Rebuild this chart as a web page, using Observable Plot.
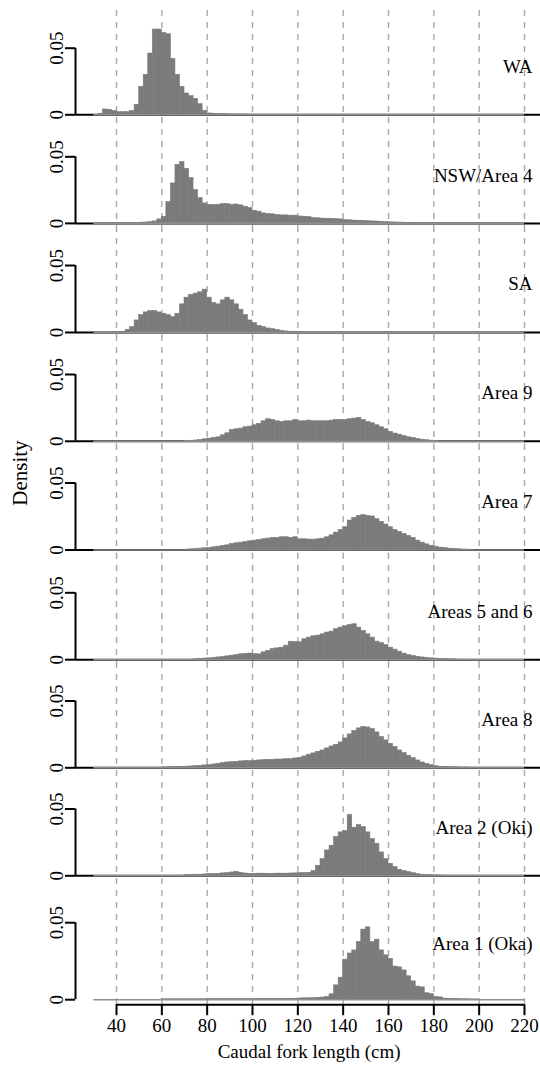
<!DOCTYPE html>
<html><head><meta charset="utf-8">
<script src="https://cdn.jsdelivr.net/npm/d3@7"></script>
<script src="https://cdn.jsdelivr.net/npm/@observablehq/plot@0.6"></script>
<style>
html,body{margin:0;padding:0;background:#fff;}
#chart{position:relative;width:540px;height:1067px;overflow:hidden;background:#fff;}
#chart svg{position:absolute;left:0;display:block;overflow:visible;}
</style></head><body><div id="chart"></div>
<script>
// ---------- data ----------
const binWidth = 2;
const binRange = [30, 220];
const xTicks = [40, 60, 80, 100, 120, 140, 160, 180, 200, 220];
const yTicks = [0, 0.05];
const panelNames = ["WA", "NSW/Area 4", "SA", "Area 9", "Area 7", "Areas 5 and 6", "Area 8", "Area 2 (Oki)", "Area 1 (Oka)"];
const binStarts = [32, 48, 42, 70, 70, 74, 60, 70, 60];
const xTitle = "Caudal fork length (cm)";
const yTitle = "Density";
const labelLevel = 0.036;

const waDensity = [0.0008, 0.004, 0.0038, 0.003, 0.002, 0.002, 0.002, 0.0028, 0.0075, 0.021, 0.030, 0.046, 0.064, 0.064, 0.0615, 0.0605, 0.042, 0.030, 0.021, 0.016, 0.014, 0.012, 0.008, 0.003, 0.001, 0.0008, 0.0006, 0.0005, 0.0004, 0.0003, 0.0002, 0.0002, 0.0001, 0.0001];
const nswDensity = [0.0003, 0.0005, 0.0007, 0.001, 0.0015, 0.003, 0.005, 0.016, 0.030, 0.044, 0.046, 0.041, 0.034, 0.025, 0.019, 0.015, 0.014, 0.0138, 0.014, 0.0145, 0.0145, 0.014, 0.0142, 0.0135, 0.0125, 0.0115, 0.0095, 0.0088, 0.0075, 0.007, 0.0068, 0.0062, 0.006, 0.006, 0.0058, 0.0058, 0.0052, 0.005, 0.0048, 0.004, 0.0038, 0.0036, 0.0035, 0.0034, 0.0032, 0.003, 0.0025, 0.0023, 0.0021, 0.002, 0.0019, 0.0016, 0.0015, 0.0014, 0.0012, 0.001, 0.0008, 0.0007, 0.0006, 0.0005, 0.0003, 0.0002];
const saDensity = [0.0005, 0.002, 0.004, 0.009, 0.013, 0.015, 0.016, 0.016, 0.015, 0.014, 0.013, 0.0115, 0.014, 0.021, 0.026, 0.028, 0.029, 0.030, 0.032, 0.026, 0.022, 0.021, 0.024, 0.026, 0.024, 0.021, 0.017, 0.013, 0.009, 0.007, 0.005, 0.004, 0.003, 0.0025, 0.0018, 0.0012, 0.0008, 0.0005, 0.0003];
const area9Density = [0.0002, 0.0004, 0.0006, 0.001, 0.0015, 0.002, 0.0025, 0.003, 0.0045, 0.006, 0.0085, 0.009, 0.0095, 0.0105, 0.011, 0.012, 0.013, 0.015, 0.0165, 0.016, 0.015, 0.0145, 0.015, 0.015, 0.016, 0.015, 0.015, 0.0155, 0.015, 0.015, 0.015, 0.015, 0.0155, 0.016, 0.016, 0.016, 0.0165, 0.017, 0.0175, 0.016, 0.0145, 0.0135, 0.012, 0.0105, 0.009, 0.007, 0.0058, 0.005, 0.004, 0.003, 0.0025, 0.0018, 0.0012, 0.0008, 0.0005, 0.0002];
const area7Density = [0.0003, 0.0005, 0.0007, 0.001, 0.0013, 0.0015, 0.002, 0.0025, 0.003, 0.0035, 0.0045, 0.005, 0.0055, 0.006, 0.0065, 0.007, 0.0075, 0.008, 0.0085, 0.009, 0.009, 0.0095, 0.0095, 0.009, 0.0095, 0.008, 0.008, 0.0078, 0.0077, 0.008, 0.0085, 0.0095, 0.011, 0.013, 0.015, 0.017, 0.022, 0.024, 0.0255, 0.026, 0.0255, 0.025, 0.023, 0.021, 0.019, 0.017, 0.015, 0.0135, 0.012, 0.0105, 0.009, 0.007, 0.0055, 0.0042, 0.0032, 0.0025, 0.0018, 0.0014, 0.001, 0.0008, 0.0006, 0.0004, 0.0003, 0.0002];
const area56Density = [0.0003, 0.0005, 0.0008, 0.001, 0.0013, 0.0017, 0.002, 0.0025, 0.003, 0.0035, 0.004, 0.0043, 0.0046, 0.0042, 0.004, 0.0055, 0.0065, 0.008, 0.0085, 0.009, 0.0105, 0.0134, 0.0132, 0.013, 0.0153, 0.0165, 0.0175, 0.018, 0.019, 0.0203, 0.021, 0.0228, 0.024, 0.025, 0.026, 0.0265, 0.024, 0.0215, 0.019, 0.0165, 0.0135, 0.0124, 0.011, 0.009, 0.0075, 0.006, 0.0045, 0.0035, 0.0028, 0.0022, 0.0017, 0.0013, 0.001, 0.0008, 0.0006, 0.0004, 0.0003, 0.0002];
const area8Density = [0.0003, 0.0004, 0.0005, 0.0006, 0.0007, 0.0008, 0.001, 0.0012, 0.0015, 0.0018, 0.002, 0.0025, 0.003, 0.0035, 0.004, 0.0042, 0.0045, 0.0048, 0.005, 0.005, 0.0052, 0.0055, 0.0058, 0.006, 0.006, 0.0062, 0.0062, 0.0065, 0.0065, 0.007, 0.0075, 0.0085, 0.0098, 0.0108, 0.012, 0.013, 0.0145, 0.016, 0.0172, 0.019, 0.022, 0.025, 0.0276, 0.0295, 0.0306, 0.0302, 0.029, 0.0265, 0.023, 0.0205, 0.018, 0.0155, 0.013, 0.011, 0.009, 0.0072, 0.0055, 0.004, 0.003, 0.002, 0.0012, 0.0008, 0.0006, 0.0005, 0.0004, 0.0003, 0.0002, 0.0002];
const area2Density = [0.0005, 0.0006, 0.0007, 0.0008, 0.001, 0.0012, 0.0013, 0.0015, 0.0018, 0.002, 0.0025, 0.003, 0.0022, 0.0017, 0.0015, 0.0015, 0.0016, 0.0016, 0.0015, 0.0015, 0.0016, 0.0016, 0.0016, 0.0017, 0.0018, 0.002, 0.002, 0.0022, 0.0035, 0.0075, 0.0125, 0.019, 0.0225, 0.029, 0.0325, 0.0335, 0.0455, 0.036, 0.038, 0.0365, 0.0325, 0.0275, 0.024, 0.0175, 0.0125, 0.009, 0.0065, 0.0045, 0.0035, 0.0028, 0.002, 0.0012, 0.0008, 0.0006, 0.0004, 0.0003, 0.0002];
const area1Density = [0.0003, 0.0003, 0.0003, 0.0003, 0.0003, 0.0003, 0.0003, 0.0003, 0.0003, 0.0003, 0.0004, 0.0004, 0.0004, 0.0004, 0.0004, 0.0004, 0.0004, 0.0004, 0.0004, 0.0004, 0.0004, 0.0004, 0.0005, 0.0005, 0.0005, 0.0005, 0.0005, 0.0006, 0.0006, 0.0006, 0.0008, 0.0009, 0.0009, 0.001, 0.0012, 0.0014, 0.0018, 0.0035, 0.0093, 0.0143, 0.026, 0.030, 0.032, 0.0375, 0.0455, 0.047, 0.0375, 0.039, 0.032, 0.0288, 0.0266, 0.0215, 0.021, 0.019, 0.0152, 0.0119, 0.0085, 0.008, 0.0042, 0.0037, 0.0018, 0.0015, 0.0007, 0.0006, 0.0005, 0.0004, 0.0003, 0.0003, 0.0002, 0.0002];

const densities = [waDensity, nswDensity, saDensity, area9Density, area7Density, area56Density, area8Density, area2Density, area1Density];

// ---------- layout ----------
const W = 540, H = 1067;
const xPixelRange = [116, 524];
const axisLeft = 75;
const zeroPx  = [114.3, 223.2, 332.2, 441, 549.5, 658.7, 767, 875.3, 999.5];
const fiftyPx = [47.7, 156.6, 265.2, 374.2, 482.5, 591.8, 700.2, 808.5, 922.5];
const xAxisPx = 1004.5;
const font = "'Liberation Serif', 'Times New Roman', serif";
const barGrey = "#7b7b7b";

const chart = document.getElementById("chart");

densities.forEach((vals, i) => {
  const last = i === densities.length - 1;
  const rows = vals.map((d, j) => ({x1: binStarts[i] + j * binWidth, x2: binStarts[i] + (j + 1) * binWidth, density: d}));
  const top = i === 0 ? 0 : zeroPx[i - 1] + 3;
  const bottom = last ? H : zeroPx[i] + 3;
  const height = bottom - top;
  const marks = [
    Plot.ruleX(xTicks, {stroke: "#a8a8a8", strokeWidth: 1.4, strokeDasharray: "6,6"}),
  ];
  if (!last) marks.push(Plot.ruleY([0], {stroke: "black", strokeWidth: 2}));
  marks.push(
    Plot.rectY(rows, {x1: "x1", x2: "x2", y: "density", fill: barGrey, stroke: barGrey, strokeWidth: 0.6}),
    Plot.ruleY([0], {x1: binRange[0], x2: binRange[1], stroke: "#8e8e8e", strokeWidth: 1.6}),
    Plot.ruleX([xTicks[0]], {y1: 0, y2: yTicks[1], dx: axisLeft - xPixelRange[0], stroke: "black", strokeWidth: 2}),
    Plot.axisY({ticks: yTicks, tickSize: 10, tickPadding: 3, tickRotate: -90, strokeWidth: 2,
      tickFormat: d => d === 0 ? "0" : "0.05", label: null, fontSize: 19}),
    Plot.text([panelNames[i]], {frameAnchor: "right", y: () => labelLevel, dx: -8, textAnchor: "end", fontSize: 19, fill: "black"})
  );
  if (i === 4) {
    marks.push(Plot.text([yTitle], {frameAnchor: "left", dx: 20 - axisLeft, dy: 7, rotate: -90, fontSize: 21, fill: "black"}));
  }
  if (last) {
    marks.push(
      Plot.ruleY([0], {x1: xTicks[0], x2: xTicks[xTicks.length - 1], dy: xAxisPx - zeroPx[i], stroke: "black", strokeWidth: 2}),
      Plot.axisX({ticks: xTicks, tickSize: 11, tickPadding: 3, strokeWidth: 2, label: null, fontSize: 19, tickFormat: d => String(d)}),
      Plot.text([xTitle], {x: () => (binRange[0] + binRange[1]) / 2, frameAnchor: "bottom", dy: 53, fontSize: 19, fill: "black"})
    );
  }
  const svg = Plot.plot({
    width: W, height,
    marginTop: i === 0 ? 10 : 0,
    marginBottom: last ? H - xAxisPx : 0,
    marginLeft: axisLeft, marginRight: 0,
    x: {domain: [xTicks[0], xTicks[xTicks.length - 1]], range: xPixelRange, axis: last ? undefined : null},
    y: {domain: [0, 0.05], range: [zeroPx[i] - top, fiftyPx[i] - top]},
    style: {fontFamily: font, fontSize: "19px", color: "black", background: "transparent", overflow: "visible"},
    marks
  });
  svg.style.top = top + "px";
  chart.append(svg);
});
</script></body></html>
